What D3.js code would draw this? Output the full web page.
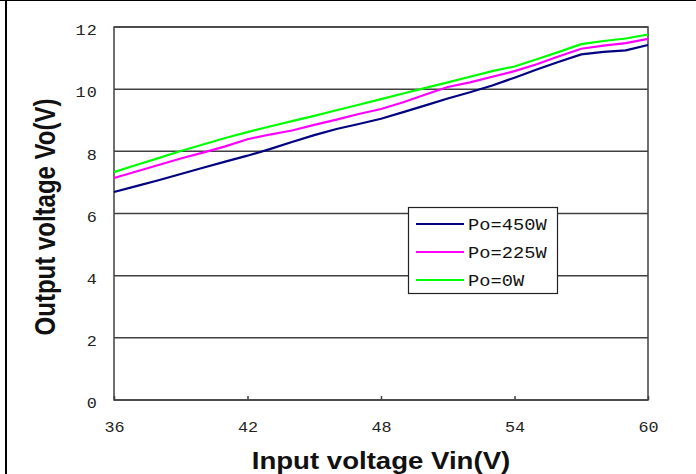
<!DOCTYPE html>
<html>
<head>
<meta charset="utf-8">
<script src="https://cdn.jsdelivr.net/npm/d3@7"></script>
<style>
  html, body { margin: 0; padding: 0; background: #fff; }
  svg { display: block; }
</style>
</head>
<body>
<svg id="chart" width="696" height="474"></svg>
<script>
const vin = [36,37,38,39,40,41,42,43,44,45,46,47,48,49,50,51,52,53,54,55,56,57,58,59,60];
const vo450 = [6.69,6.88,7.07,7.27,7.47,7.67,7.86,8.07,8.30,8.52,8.72,8.88,9.05,9.26,9.48,9.70,9.90,10.12,10.37,10.63,10.88,11.12,11.20,11.25,11.42];
const vo225 = [7.14,7.35,7.56,7.77,7.96,8.16,8.39,8.54,8.67,8.85,9.02,9.20,9.36,9.58,9.83,10.07,10.22,10.40,10.58,10.80,11.06,11.30,11.40,11.48,11.62];
const vo0 = [7.33,7.56,7.78,8.01,8.22,8.43,8.62,8.80,8.97,9.14,9.32,9.50,9.68,9.86,10.04,10.22,10.40,10.58,10.73,10.96,11.20,11.45,11.55,11.63,11.76];
const seriesNames = ["Po=450W","Po=225W","Po=0W"];
const seriesColors = ["#000080","#ff00ff","#00ff00"];
const xTicks = [36,42,48,54,60];
const yTicks = [0,2,4,6,8,10,12];
const xTitle = "Input voltage Vin(V)";
const yTitle = "Output voltage Vo(V)";

(function(){
const series = [vo450, vo225, vo0];
const svg = d3.select("#chart");
const sx = 1.2; // horizontal stretch of the original picture's text

// outer frame (top and left only)
svg.append("line").attr("x1",0).attr("x2",696).attr("y1",0.5).attr("y2",0.5).attr("stroke","#000").attr("stroke-width",1);
svg.append("line").attr("x1",6).attr("x2",6).attr("y1",0).attr("y2",474).attr("stroke","#000").attr("stroke-width",2);

const pLeft = 114, pRight = 648, pTop = 27, pBottom = 400;
const x = d3.scaleLinear().domain([36,60]).range([pLeft,pRight]);
const y = d3.scaleLinear().domain([0,12]).range([pBottom,pTop]);

const axisColor = "#404040";
svg.append("g").selectAll("line").data(yTicks).join("line")
  .attr("x1",pLeft).attr("x2",pRight)
  .attr("y1",d=>y(d)).attr("y2",d=>y(d))
  .attr("stroke",axisColor).attr("stroke-width",1.5);
svg.append("rect").attr("x",pLeft).attr("y",pTop).attr("width",pRight-pLeft).attr("height",pBottom-pTop)
  .attr("fill","none").attr("stroke",axisColor).attr("stroke-width",1.5);

const monoFont = "'Liberation Mono', 'DejaVu Sans Mono', monospace";
const xAxis = d3.axisBottom(x).tickValues(xTicks).tickSize(-4).tickFormat(d3.format("d"));
const gx = svg.append("g").attr("transform",`translate(0,${pBottom})`).call(xAxis);
gx.select(".domain").remove();
gx.selectAll(".tick line").attr("stroke",axisColor).attr("stroke-width",1.5);
gx.selectAll(".tick text").attr("font-family",monoFont).attr("font-size",14)
  .attr("fill","#222").attr("dy","0.35em").attr("y",27).attr("x",0)
  .attr("transform",`scale(${sx},1)`);

const yAxis = d3.axisLeft(y).tickValues(yTicks).tickSize(0).tickFormat(d3.format("d"));
const gy = svg.append("g").attr("transform",`translate(${pLeft},0)`).call(yAxis);
gy.select(".domain").remove();
gy.selectAll(".tick text").attr("font-family",monoFont).attr("font-size",14)
  .attr("letter-spacing","1px")
  .attr("fill","#222").attr("dy","0.55em").attr("x",-16/sx)
  .attr("transform",`scale(${sx},1)`);

const line = d3.line().x((d,i)=>x(vin[i])).y(d=>y(d));
series.forEach((s,k)=>{
  svg.append("path").datum(s).attr("d",line).attr("fill","none")
    .attr("stroke",seriesColors[k]).attr("stroke-width",2.2);
});

const titleFont = "'Liberation Sans', Arial, sans-serif";
svg.append("text").attr("transform",`translate(381,469) scale(${sx},1)`).attr("text-anchor","middle")
  .attr("font-family",titleFont).attr("font-weight","bold").attr("font-size",23)
  .attr("fill","#111").text(xTitle);
svg.append("text").attr("transform",`translate(55,217) scale(${sx},1) rotate(-90)`).attr("text-anchor","middle")
  .attr("font-family",titleFont).attr("font-weight","bold").attr("font-size",24)
  .attr("fill","#111").text(yTitle);

const lg = svg.append("g");
lg.append("rect").attr("x",408.5).attr("y",207.5).attr("width",149).attr("height",86)
  .attr("fill","#fff").attr("stroke","#222").attr("stroke-width",1.2);
seriesNames.forEach((n,k)=>{
  const yy = 224 + k*28;
  lg.append("line").attr("x1",416).attr("x2",464).attr("y1",yy).attr("y2",yy)
    .attr("stroke",seriesColors[k]).attr("stroke-width",2.2);
  lg.append("text").attr("transform",`translate(468,${yy}) scale(1.17,1)`).attr("dy","0.36em")
    .attr("font-family",monoFont).attr("font-size",16)
    .attr("fill","#111").text(n);
});
})();
</script>
</body>
</html>
